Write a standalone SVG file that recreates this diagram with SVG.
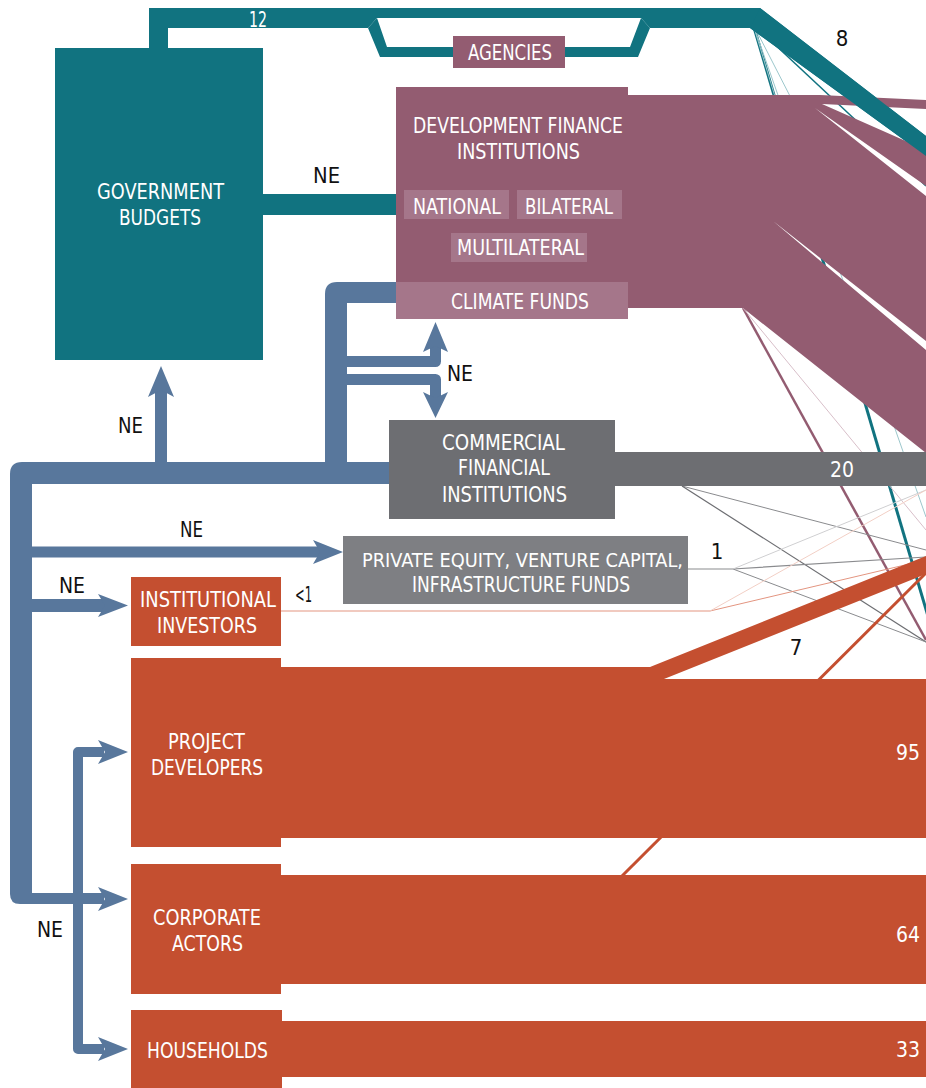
<svg xmlns="http://www.w3.org/2000/svg" width="926" height="1088" viewBox="0 0 926 1088">
<style>
.t{font-family:"Liberation Sans Narrow","DejaVu Sans Condensed","Liberation Sans",sans-serif;font-size:22px;}
.w{fill:#ffffff;}
.k{fill:#111111;}
.teal{fill:#117380;}
.mauve{fill:#935C71;}
.sub{fill:#A5768A;}
.orange{fill:#C44F30;}
.gray{fill:#6D6E72;}
.gray2{fill:#7E7F83;}
.blue{fill:#58779C;}
.bl{stroke:#58779C;fill:none;stroke-linejoin:round;}
</style>
<rect width="926" height="1088" fill="#ffffff"/>

<g id="connectors">
  <!-- thin lines behind bands -->
  <g fill="none">
    <line x1="753" y1="24" x2="935" y2="640" stroke="#117380" stroke-width="3"/>
    <line x1="753" y1="24" x2="792" y2="100" stroke="#9CC7CC" stroke-width="1"/>
    <line x1="753" y1="24" x2="776" y2="100" stroke="#9CC7CC" stroke-width="1"/>
    <line x1="753" y1="24" x2="926" y2="517" stroke="#9CC7CC" stroke-width="1"/>
    <line x1="753" y1="24" x2="926" y2="186" stroke="#117380" stroke-width="1.5"/>
    <line x1="743" y1="308" x2="926" y2="640" stroke="#935C71" stroke-width="2.5"/>
    <line x1="743" y1="308" x2="926" y2="530" stroke="#D8BFC9" stroke-width="1"/>
    <line x1="682" y1="486" x2="926" y2="550" stroke="#8A8B8E" stroke-width="1"/>
    <line x1="682" y1="486" x2="926" y2="642" stroke="#6D6E72" stroke-width="1.2"/>
    <polyline points="688,569 733,569 926,557" stroke="#8A8B8E" stroke-width="1.2"/>
    <line x1="733" y1="569" x2="926" y2="642" stroke="#8A8B8E" stroke-width="1"/>
    <line x1="733" y1="569" x2="926" y2="490" stroke="#CFCFD1" stroke-width="1"/>
    <polyline points="281,611 710,611 926,560" stroke="#E39580" stroke-width="1"/>
    <line x1="710" y1="611" x2="926" y2="490" stroke="#F2CFC5" stroke-width="1"/>
    <line x1="621" y1="877" x2="926" y2="573" stroke="#C44F30" stroke-width="3"/>
  </g>

  <!-- teal flow from government budgets -->
  <polygon class="teal" points="149,8 760,8 926,136 926,156 750,28 650,28 641,18 377,18 368,28 168,28 168,48 149,48"/>
  <polygon class="teal" points="368,28 377,18 387,47 453,47 453,57 380,57"/>
  <polygon class="teal" points="565,47 630,47 641,18 650,28 638,57 565,57"/>
  <rect class="teal" x="263" y="194" width="134" height="21"/>

  <!-- mauve flows from DFI -->
  <path class="mauve" fill-rule="evenodd" d="M628,95 L820,95 L926,100 L926,453 L743,308 L628,308 Z M822,104 L926,109 L926,150 Z M815,108 L926,186 L926,196 Z M773,221 L926,341 L926,350 Z"/>
  <polygon class="teal" points="760,8 926,136 926,156 750,28"/>

  <!-- gray bar from commercial -->
  <rect class="gray" x="610" y="452" width="316" height="34"/>

  <!-- orange flows -->
  <polygon class="orange" points="281,667 650,667 926,556 926,574 664,679 926,679 926,838 281,838"/>
  <rect class="orange" x="281" y="875" width="645" height="109"/>
  <rect class="orange" x="281" y="1021" width="645" height="56"/>

  <!-- blue connectors (NE) -->
  <path class="blue" d="M392,462 L22,462 Q10,462 10,474 L10,894 Q10,904 20,904 L104,904 L104,893 L32,893 L32,484 L392,484 Z"/>
  <polygon class="blue" points="128,899 98,887 105,899 98,911"/>
  <path class="blue" d="M325,473 L325,294 Q325,282 337,282 L398,282 L398,303 L347,303 L347,473 Z"/>
  <rect class="blue" x="155" y="390" width="12" height="74"/>
  <polygon class="blue" points="161,366 148,397 161,390 174,397"/>
  <path class="bl" stroke-width="11" d="M345,361.5 L435.5,361.5 L435.5,346"/>
  <polygon class="blue" points="435.5,322 423,352 435.5,346 448,352"/>
  <path class="bl" stroke-width="11" d="M345,379.5 L435.5,379.5 L435.5,398"/>
  <polygon class="blue" points="435.5,418 423,392 435.5,398 448,392"/>
  <rect class="blue" x="30" y="546.5" width="290" height="11"/>
  <polygon class="blue" points="343,552 313,540 320,552 313,564"/>
  <rect class="blue" x="30" y="599" width="75" height="13"/>
  <polygon class="blue" points="128,605.5 98,594 105,605.5 98,617"/>
  <path class="bl" stroke-width="10" d="M104,752 L78,752 L78,1049 L104,1049"/>
  <polygon class="blue" points="128,752 98,740 105,752 98,764"/>
  <polygon class="blue" points="128,1049 98,1037 105,1049 98,1061"/>
</g>

<g id="government-budgets">
  <rect class="teal" x="55" y="48" width="208" height="312"/>
  <text class="t w" x="97" y="199" textLength="127" lengthAdjust="spacingAndGlyphs">GOVERNMENT</text>
  <text class="t w" x="119" y="225" textLength="82" lengthAdjust="spacingAndGlyphs">BUDGETS</text>
</g>

<g id="agencies">
  <rect class="mauve" x="453" y="36" width="112" height="32"/>
  <text class="t w" x="468" y="60" textLength="84" lengthAdjust="spacingAndGlyphs">AGENCIES</text>
</g>

<g id="dfi">
  <rect class="mauve" x="396" y="87" width="232" height="232"/>
  <text class="t w" x="413" y="133" textLength="210" lengthAdjust="spacingAndGlyphs">DEVELOPMENT FINANCE</text>
  <text class="t w" x="457" y="159" textLength="123" lengthAdjust="spacingAndGlyphs">INSTITUTIONS</text>
  <rect class="sub" x="404" y="190" width="105" height="29"/>
  <text class="t w" x="413" y="214" textLength="88" lengthAdjust="spacingAndGlyphs">NATIONAL</text>
  <rect class="sub" x="517" y="190" width="105" height="29"/>
  <text class="t w" x="525" y="214" textLength="88" lengthAdjust="spacingAndGlyphs">BILATERAL</text>
  <rect class="sub" x="451" y="233" width="136" height="29"/>
  <text class="t w" x="457" y="255" textLength="127" lengthAdjust="spacingAndGlyphs">MULTILATERAL</text>
</g>

<g id="climate-funds">
  <rect class="sub" x="396" y="282" width="232" height="37"/>
  <text class="t w" x="451" y="309" textLength="138" lengthAdjust="spacingAndGlyphs">CLIMATE FUNDS</text>
</g>

<g id="commercial-financial-institutions">
  <rect class="gray" x="389" y="420" width="226" height="99"/>
  <text class="t w" x="442" y="450" textLength="123" lengthAdjust="spacingAndGlyphs">COMMERCIAL</text>
  <text class="t w" x="458" y="475" textLength="92" lengthAdjust="spacingAndGlyphs">FINANCIAL</text>
  <text class="t w" x="442" y="502" textLength="125" lengthAdjust="spacingAndGlyphs">INSTITUTIONS</text>
</g>

<g id="private-equity">
  <rect class="gray2" x="343" y="536" width="345" height="68"/>
  <text class="t w" x="362" y="567" textLength="321" lengthAdjust="spacingAndGlyphs" style="font-size:20px">PRIVATE EQUITY, VENTURE CAPITAL,</text>
  <text class="t w" x="412" y="592" textLength="218" lengthAdjust="spacingAndGlyphs">INFRASTRUCTURE FUNDS</text>
</g>

<g id="institutional-investors">
  <rect class="orange" x="131" y="577" width="150" height="69"/>
  <text class="t w" x="140" y="607" textLength="136" lengthAdjust="spacingAndGlyphs">INSTITUTIONAL</text>
  <text class="t w" x="157" y="633" textLength="100" lengthAdjust="spacingAndGlyphs">INVESTORS</text>
</g>

<g id="project-developers">
  <rect class="orange" x="131" y="658" width="150" height="189"/>
  <text class="t w" x="168" y="749" textLength="77" lengthAdjust="spacingAndGlyphs">PROJECT</text>
  <text class="t w" x="151" y="775" textLength="112" lengthAdjust="spacingAndGlyphs">DEVELOPERS</text>
</g>

<g id="corporate-actors">
  <rect class="orange" x="131" y="864" width="150" height="130"/>
  <text class="t w" x="153" y="925" textLength="108" lengthAdjust="spacingAndGlyphs">CORPORATE</text>
  <text class="t w" x="172" y="951" textLength="71" lengthAdjust="spacingAndGlyphs">ACTORS</text>
</g>

<g id="households">
  <rect class="orange" x="131" y="1010" width="151" height="78"/>
  <text class="t w" x="147" y="1058" textLength="121" lengthAdjust="spacingAndGlyphs">HOUSEHOLDS</text>
</g>

<g id="labels">
  <text class="t w" x="249" y="27" textLength="18" lengthAdjust="spacingAndGlyphs">12</text>
  <text class="t k" x="842" y="46" text-anchor="middle">8</text>
  <text class="t w" x="830" y="477" textLength="24" lengthAdjust="spacingAndGlyphs">20</text>
  <text class="t k" x="717" y="559" text-anchor="middle">1</text>
  <text class="t k" x="295" y="602" textLength="17" lengthAdjust="spacingAndGlyphs">&lt;1</text>
  <text class="t k" x="796" y="655" text-anchor="middle">7</text>
  <text class="t w" x="896" y="760" textLength="24" lengthAdjust="spacingAndGlyphs">95</text>
  <text class="t w" x="896" y="942" textLength="24" lengthAdjust="spacingAndGlyphs">64</text>
  <text class="t w" x="896" y="1057" textLength="24" lengthAdjust="spacingAndGlyphs">33</text>
  <text class="t k" x="313" y="183" textLength="27" lengthAdjust="spacingAndGlyphs">NE</text>
  <text class="t k" x="118" y="433" textLength="25" lengthAdjust="spacingAndGlyphs">NE</text>
  <text class="t k" x="447" y="381" textLength="26" lengthAdjust="spacingAndGlyphs">NE</text>
  <text class="t k" x="180" y="537" textLength="23" lengthAdjust="spacingAndGlyphs">NE</text>
  <text class="t k" x="59" y="593" textLength="26" lengthAdjust="spacingAndGlyphs">NE</text>
  <text class="t k" x="37" y="937" textLength="26" lengthAdjust="spacingAndGlyphs">NE</text>
</g>
</svg>
